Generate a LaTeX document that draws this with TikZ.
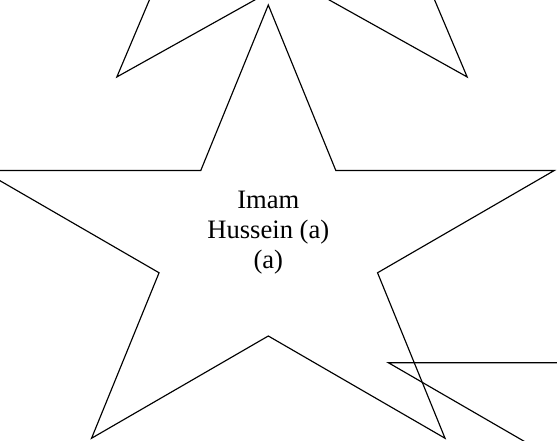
\documentclass[tikz,border=0pt]{standalone}
\usepackage{fontspec}
\setmainfont{Liberation Serif}
\tikzset{
  starline/.style={draw=black, line width=1.15pt, line join=miter},
  startext/.style={align=center, inner sep=0pt, font=\fontsize{26.6}{30}\selectfont}
}
\newcommand{\fivestar}[4]{% cx, cy (pixel, y down), Rx, Ry
  \begin{scope}[shift={(#1,440-#2)}, xscale=#3, yscale=#4]
    \draw[starline] (90:1) -- (126:0.382) -- (162:1) -- (198:0.382) -- (234:1)
      -- (270:0.382) -- (306:1) -- (342:0.382) -- (18:1) -- (54:0.382) -- cycle;
  \end{scope}}
\begin{document}
\begin{tikzpicture}[x=1pt,y=1pt]
  \useasboundingbox (0,0) rectangle (557,440);
  \fill[white] (0,0) rectangle (557,440);
  \clip (0,0) rectangle (557,440);
  % top star (mostly outside)
  \fivestar{292}{-108.3}{298}{229}
  % main star
  \fivestar{268.3}{244.5}{300.7}{239.5}
  % bottom-right star (mostly outside)
  \fivestar{674.3}{436.7}{300.7}{239.5}
  \node[startext] (label) at (268.3,440-232.5) {Imam\\Hussein (a)\\(a)};
\end{tikzpicture}
\end{document}
